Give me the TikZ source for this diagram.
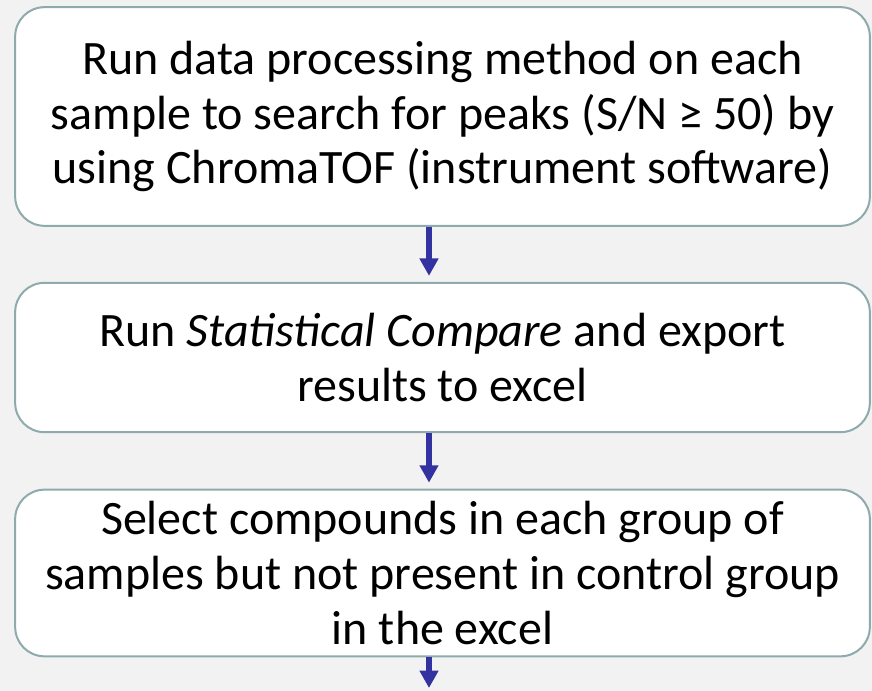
\documentclass[tikz,border=0pt]{standalone}
\usepackage{fontspec}
\setmainfont{Carlito}
\usetikzlibrary{arrows.meta}

\definecolor{pagegray}{RGB}{242,242,242}
\definecolor{boxedge}{RGB}{143,170,172}
\definecolor{flowblue}{RGB}{50,50,160}

\begin{document}
\begin{tikzpicture}[x=0.75pt, y=-0.75pt]
   \tikzstyle{step box}=[draw=boxedge, line width=1.5pt, fill=white, rounded corners=22pt, minimum width=641pt, align=center, font=\fontsize{36}{41}\selectfont]
   \tikzstyle{flow}=[draw=flowblue, line width=4.5pt, -{Triangle[length=13pt, width=13.5pt]}, flowblue, shorten >=4.5pt]

\fill[pagegray] (0,0) rectangle (872,691);
\useasboundingbox (0,0) rectangle (872,691);

\node[step box, minimum height=164pt] (search) at (442.5,116.5)
    {Run data processing method on each\\ sample to search for peaks (S/N ≥ 50) by\\ using ChromaTOF (instrument software)};
\node[step box, minimum height=112pt] (compare) at (442.5,357.5)
    {Run \textit{Statistical Compare} and export\\ results to excel};
\node[step box, minimum height=125pt] (select) at (442.5,573)
    {Select compounds in each group of\\ samples but not present in control group\\ in the excel};

\coordinate (axis) at (429,0);
\coordinate (out) at (429,688);

\draw[flow] (search.south -| axis) -- (compare.north -| axis);
\draw[flow] (compare.south -| axis) -- (select.north -| axis);
\draw[flow, shorten >=0pt] (select.south -| axis) -- (out);

\end{tikzpicture}
\end{document}
